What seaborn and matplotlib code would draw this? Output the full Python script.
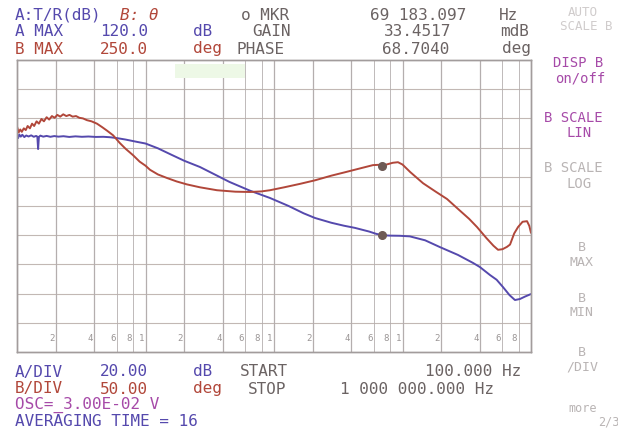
import numpy as np
import pandas as pd
import matplotlib
matplotlib.use("Agg")
import matplotlib.pyplot as plt
import seaborn as sns
from matplotlib.transforms import blended_transform_factory

# channel A: gain (dB)
gain_freq = [100, 102, 104, 107, 110, 114, 118, 123, 129, 135, 141, 144, 146, 148,
             152, 160, 170, 182, 195, 210, 230, 255, 285, 320, 360, 410, 470, 530,
             600, 700, 850, 1000, 1250, 1600, 2000, 2655, 3300, 4500, 6500, 9300,
             13000, 17000, 20840, 28000, 35000, 42700, 55000, 62000, 69183, 80000,
             95000, 114000, 150000, 195000, 270000, 354000, 400000, 480000, 540000,
             605000, 680000, 750000, 820000, 900000, 1000000]
gain_db = [68.5, 66.5, 69.0, 67.5, 68.8, 67.2, 68.3, 67.6, 68.4, 67.4, 68.0, 67.5, 59.0, 67.3,
           68.2, 67.5, 68.0, 67.4, 67.9, 67.5, 67.8, 67.3, 67.7, 67.4, 67.6, 67.3, 67.4, 67.1,
           66.5, 65.5, 64.0, 62.8, 59.5, 55.0, 51.0, 46.7, 42.5, 36.5, 30.5, 25.5,
           20.0, 15.0, 11.8, 8.5, 6.5, 5.0, 2.5, 1.0, 0.03, -0.3,
           -0.4, -0.8, -3.5, -8.1, -13.5, -19.0, -21.8, -27.3, -30.5,
           -35.5, -41.0, -44.4, -43.7, -42.0, -40.3]

# channel B: phase (deg)
phase_freq = [100, 103, 106, 109, 113, 117, 121, 126, 131, 136, 142, 148, 155, 162,
              170, 178, 187, 196, 206, 217, 229, 242, 256, 271, 288, 306, 326, 350,
              380, 419, 460, 502, 560, 630, 700, 800, 900, 1000, 1084, 1250, 1468,
              1750, 2100, 2655, 3600, 5000, 6500, 8000, 9300, 12000, 16000, 20840,
              28000, 36000, 46000, 58900, 65000, 69183, 75000, 84000, 92200, 100000,
              115000, 144500, 180000, 222000, 280000, 330000, 380000, 450000, 510000,
              554000, 600000, 650000, 687000, 740000, 793000, 860000, 931000, 970000,
              1000000]
phase_deg = [136, 126, 131, 127, 133, 130, 137, 133, 141, 137, 145, 141, 149, 145,
             152, 148, 154, 151, 156, 153, 157, 154, 156, 153, 154, 151, 150, 147,
             145, 141, 135, 129, 121, 108, 98, 87, 76, 69, 62, 54, 48,
             42, 37, 32, 27, 24.5, 24, 25, 27, 32, 38, 44,
             52, 58, 64, 70, 70.5, 68.7, 71, 74, 75, 71,
             58, 39, 25, 12, -8, -22, -36, -55, -68,
             -75, -74, -70, -66, -47, -36, -27, -26, -34,
             -46]

marker_freq = 69183.097
marker_gain = 0.0334517
marker_phase = 68.7040

decades = [100, 1000, 10000, 100000]
grid_mults = [2, 4, 6, 8, 10]
grid_labels = ["2", "4", "6", "8", "1"]

BLUE = "#5549ad"
RED = "#b1473a"
GRAY = "#6b6363"
MAG = "#a64aa8"
FAINT = "#b9b4b4"

sns.set_style("white")
plt.rcParams["font.family"] = ["DejaVu Sans Mono"]

W, H = 618, 437
fig = plt.figure(figsize=(W / 100, H / 100), dpi=100)
fig.patch.set_facecolor("white")

left, right, top, bottom = 17, 531, 60, 352
ax = fig.add_axes([left / W, 1 - bottom / H, (right - left) / W, (bottom - top) / H])
ax2 = ax.twinx()

gain = pd.DataFrame({"freq": gain_freq, "val": gain_db})
phase = pd.DataFrame({"freq": phase_freq, "val": phase_deg})

sns.lineplot(data=gain, x="freq", y="val", ax=ax, color=BLUE, lw=1.4, estimator=None)
sns.lineplot(data=phase, x="freq", y="val", ax=ax2, color=RED, lw=1.4, estimator=None)
ax.plot([marker_freq], [marker_gain], "o", ms=5.5, color="#6e5a55", zorder=5)
ax2.plot([marker_freq], [marker_phase], "o", ms=5.5, color="#6e5a55", zorder=5)

for a, lo, hi in [(ax, -80, 120), (ax2, -250, 250)]:
    a.set_xscale("log")
    a.set_xlim(100, 1e6)
    a.set_ylim(lo, hi)
    a.set_xticks([])
    a.set_yticks([])
    a.set_xlabel("")
    a.set_ylabel("")
    a.minorticks_off()
    for s in a.spines.values():
        s.set_color("#a29c9c")
        s.set_linewidth(1.0)

# horizontal divisions: 20 dB each
for v in range(-60, 120, 20):
    ax.axhline(v, color="#c2b8b4", lw=0.8, zorder=0)

# log grid and its in-plot labels
trans = blended_transform_factory(ax.transData, ax.transAxes)
for d in decades:
    for m, lab in zip(grid_mults, grid_labels):
        f = d * m
        if f >= 1e6:
            continue
        lw = 0.9 if m in (2, 4, 10) else 0.6
        ax.axvline(f, color="#b4aeae", lw=lw, zorder=0)
        ax.text(f * 0.975, 0.03, lab, transform=trans, ha="right", va="bottom",
                fontsize=6.5, color="#9a9595")

# faint green blob near the top
ax.axvspan(1700, 5900, ymin=0.94, ymax=0.985, color="#edf8e6", zorder=0, lw=0)


def put(x, y, s, color, size=11.5, **kw):
    fig.text(x / W, 1 - y / H, s, color=color, fontsize=size, ha="left", va="center", **kw)


# header
put(15, 15, "A:T/R(dB)", BLUE)
put(120, 15, "B: θ", RED, style="italic")
put(241, 15, "o MKR", GRAY)
put(370, 15, "69 183.097", GRAY)
put(499, 15, "Hz", GRAY)
put(15, 32, "A MAX", BLUE)
put(100, 32, "120.0", BLUE)
put(193, 32, "dB", BLUE)
put(252, 32, "GAIN", GRAY)
put(384, 32, "33.4517", GRAY)
put(500, 32, "mdB", GRAY)
put(15, 49, "B MAX", RED)
put(100, 49, "250.0", RED)
put(193, 49, "deg", RED)
put(236, 49, "PHASE", GRAY)
put(382, 49, "68.7040", GRAY)
put(502, 49, "deg", GRAY)

# softkeys
put(568, 12, "AUTO", "#d0cccc", size=9)
put(560, 27, "SCALE B", "#d0cccc", size=9)
put(553, 63, "DISP B", MAG, size=10)
put(555, 78, "on/off", MAG, size=10)
put(544, 118, "B SCALE", MAG, size=10)
put(566, 133, "LIN", MAG, size=10)
put(544, 168, "B SCALE", FAINT, size=10)
put(566, 184, "LOG", FAINT, size=10)
put(578, 248, "B", FAINT, size=9.5)
put(569, 262, "MAX", FAINT, size=9.5)
put(578, 298, "B", FAINT, size=9.5)
put(569, 312, "MIN", FAINT, size=9.5)
put(578, 352, "B", FAINT, size=9.5)
put(566, 367, "/DIV", FAINT, size=9.5)
put(568, 408, "more", FAINT, size=8.5)
put(598, 422, "2/3", FAINT, size=8.5)

# footer
put(15, 372, "A/DIV", BLUE)
put(100, 372, "20.00", BLUE)
put(193, 372, "dB", BLUE)
put(240, 372, "START", GRAY)
put(425, 372, "100.000 Hz", GRAY)
put(15, 389, "B/DIV", RED)
put(100, 389, "50.00", RED)
put(193, 389, "deg", RED)
put(248, 389, "STOP", GRAY)
put(340, 389, "1 000 000.000 Hz", GRAY)
put(15, 405, "OSC=_3.00E-02 V", MAG)
put(15, 421, "AVERAGING TIME = 16", BLUE)

fig.savefig("out.png", dpi=100)
